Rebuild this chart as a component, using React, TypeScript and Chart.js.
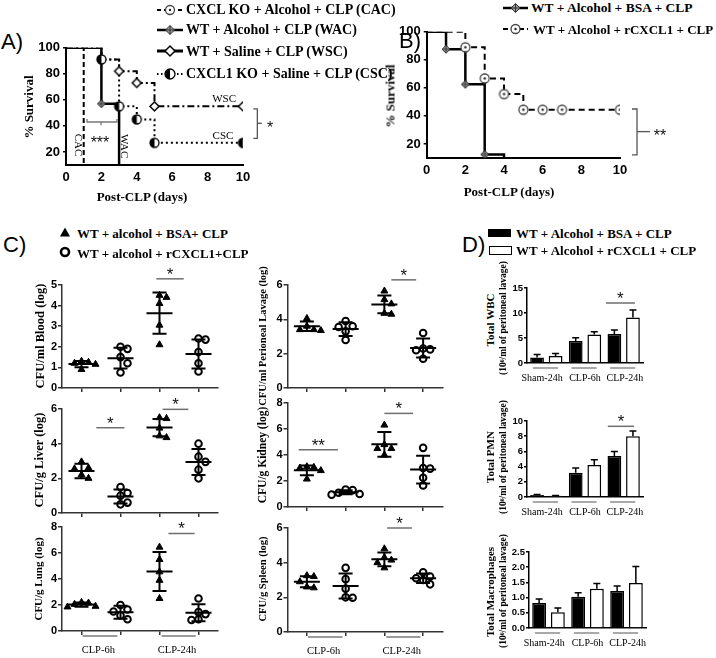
import React, { useEffect, useRef } from 'react';
import { Chart, registerables } from 'chart.js';

Chart.register(...registerables);

const SERIF = '"Liberation Serif", "Times New Roman", Times, serif';
const SANS = '"Liberation Sans", Arial, Helvetica, sans-serif';

// ================= Panel A : survival =================
const daysCAC = [0, 1];
const survCAC = [100, 0];
const daysWAC = [0, 2, 3];
const survWAC = [100, 57, 0];
const daysWSC = [0, 2, 3, 4, 5, 10];
const survWSC = [100, 91, 82, 73, 55, 55];
const daysCSC = [0, 2, 3, 4, 5, 10];
const survCSC = [100, 91, 55, 45, 27, 27];
const censorDaysWAC = [2];
const censorSurvWAC = [57];
const censorDaysWSC = [3, 4, 5, 10];
const censorSurvWSC = [82, 73, 55, 55];
const censorDaysCSC = [2, 3, 4, 5, 10];
const censorSurvCSC = [91, 55, 45, 27, 27];

// ================= Panel B : survival =================
const daysBSA = [0, 1, 2, 3, 4];
const survBSA = [100, 87.5, 62.5, 12.5, 0];
const daysRC = [0, 2, 3, 4, 5, 10];
const survRC = [100, 88.9, 66.7, 55.6, 44.4, 44.4];
const censorDaysBSA = [1, 2, 3];
const censorSurvBSA = [87.5, 62.5, 12.5];
const censorDaysRC = [2, 3, 4, 5, 6, 7, 10];
const censorSurvRC = [88.9, 66.7, 55.6, 44.4, 44.4, 44.4, 44.4];

const dayTicks = [0, 2, 4, 6, 8, 10];
const survTicks = [20, 40, 60, 80, 100];

// ================= Panel C : CFU (log) =================
const bloodBSA6h = [1.3, 1.25, 1.2, 1.15, 0.9];
const bloodRC6h = [2.0, 1.9, 1.5, 1.2, 0.75];
const bloodBSA24h = [4.5, 4.4, 4.1, 3.05, 2.1];
const bloodRC24h = [2.4, 2.35, 1.75, 1.2, 0.8];
const bloodMean = [1.16, 1.45, 3.63, 1.65];
const bloodSD = [0.15, 0.5, 1.0, 0.7];

const peritBSA6h = [4.05, 3.6, 3.4, 3.4, 3.35];
const peritRC6h = [3.9, 3.6, 3.55, 3.3, 2.8];
const peritBSA24h = [5.65, 5.15, 4.9, 4.35, 4.3];
const peritRC24h = [3.2, 2.3, 2.25, 2.2, 1.7];
const peritMean = [3.6, 3.43, 4.87, 2.33];
const peritSD = [0.28, 0.4, 0.52, 0.55];

const liverBSA6h = [2.95, 2.6, 2.55, 2.2, 2.0];
const liverRC6h = [1.5, 1.15, 1.0, 0.6, 0.5];
const liverBSA24h = [5.5, 5.45, 4.9, 4.45, 4.35];
const liverRC24h = [4.0, 3.25, 2.95, 2.5, 2.0];
const liverMean = [2.42, 0.95, 4.93, 2.94];
const liverSD = [0.42, 0.4, 0.5, 0.75];

const kidneyBSA6h = [3.1, 3.05, 3.0, 2.8, 2.15];
const kidneyRC6h = [1.35, 1.3, 1.1, 1.0, 0.95];
const kidneyBSA24h = [6.3, 4.8, 4.5, 4.5, 4.0];
const kidneyRC24h = [4.55, 3.0, 2.95, 2.25, 1.65];
const kidneyMean = [2.82, 1.14, 4.82, 2.88];
const kidneySD = [0.38, 0.15, 0.95, 1.07];

const lungBSA6h = [2.2, 2.15, 2.05, 1.9, 1.85];
const lungRC6h = [2.0, 1.65, 1.5, 1.2, 0.9];
const lungBSA24h = [6.45, 5.5, 4.55, 3.9, 2.5];
const lungRC24h = [2.5, 1.45, 1.3, 0.9, 0.85];
const lungMean = [2.03, 1.45, 4.58, 1.4];
const lungSD = [0.16, 0.5, 1.5, 0.65];

const spleenBSA6h = [3.25, 3.2, 2.9, 2.6, 2.55];
const spleenRC6h = [3.7, 3.05, 2.5, 2.0, 1.98];
const spleenBSA24h = [4.8, 4.3, 4.15, 4.0, 3.7];
const spleenRC24h = [3.45, 3.2, 3.1, 3.0, 2.75];
const spleenMean = [2.9, 2.65, 4.19, 3.1];
const spleenSD = [0.32, 0.72, 0.4, 0.27];

const cGroups = ['CLP-6h', 'CLP-24h'];

// ================= Panel D : peritoneal cells =================
const dGroups = ['Sham-24h', 'CLP-6h', 'CLP-24h'];
const wbcBSA = [1.1, 4.4, 5.8];
const wbcBSAsd = [0.6, 0.65, 0.8];
const wbcRC = [1.4, 5.7, 9.1];
const wbcRCsd = [0.5, 0.55, 1.5];
const pmnBSA = [0.25, 3.2, 5.4];
const pmnBSAsd = [0.08, 0.6, 0.6];
const pmnRC = [0.15, 4.2, 8.0];
const pmnRCsd = [0.05, 0.7, 0.7];
const macBSA = [0.82, 1.03, 1.22];
const macBSAsd = [0.13, 0.13, 0.16];
const macRC = [0.52, 1.29, 1.48];
const macRCsd = [0.14, 0.17, 0.54];

const legendA = [
  'CXCL KO + Alcohol + CLP (CAC)',
  'WT + Alcohol + CLP (WAC)',
  'WT + Saline + CLP (WSC)',
  'CXCL1 KO + Saline + CLP (CSC)',
];
const legendB = ['WT + Alcohol + BSA + CLP', 'WT + Alcohol + rCXCL1 + CLP'];
const legendC = ['WT + alcohol + BSA+ CLP', 'WT + alcohol + rCXCL1+CLP'];
const legendD = ['WT + Alcohol + BSA + CLP', 'WT + Alcohol + rCXCL1 + CLP'];

// ================= helpers =================
type Box = { l: number; t: number; r: number; b: number };
type Pad = { l: number; t: number; r: number; b: number };
type Draw = (ctx: CanvasRenderingContext2D, cx: number, cy: number, r: number) => void;

type Ann =
  | { kind: 'path'; pts: number[][]; color?: string; width?: number }
  | { kind: 'text'; x: number; y: number; text: string; size: number; rot?: number; weight?: string; font?: string }
  | { kind: 'star'; x: number; y: number; text: string; size: number }
  | { kind: 'sig'; x0: number; x1: number; y: number; text: string }
  | { kind: 'group'; x0: number; x1: number; lx: number; text: string; dyLine: number; dyText: number; size: number };

const mCircleDot: Draw = (ctx, cx, cy, r) => {
  ctx.beginPath();
  ctx.arc(cx, cy, r, 0, Math.PI * 2);
  ctx.fillStyle = '#fff';
  ctx.fill();
  ctx.lineWidth = 1.3;
  ctx.strokeStyle = '#444';
  ctx.stroke();
  ctx.beginPath();
  ctx.arc(cx, cy, 1.2, 0, Math.PI * 2);
  ctx.fillStyle = '#222';
  ctx.fill();
};
const mHalf: Draw = (ctx, cx, cy, r) => {
  ctx.beginPath();
  ctx.arc(cx, cy, r, 0, Math.PI * 2);
  ctx.fillStyle = '#fff';
  ctx.fill();
  ctx.beginPath();
  ctx.moveTo(cx, cy - r);
  ctx.arc(cx, cy, r, -Math.PI / 2, Math.PI / 2, true);
  ctx.closePath();
  ctx.fillStyle = '#000';
  ctx.fill();
  ctx.beginPath();
  ctx.arc(cx, cy, r, 0, Math.PI * 2);
  ctx.lineWidth = 1.3;
  ctx.strokeStyle = '#000';
  ctx.stroke();
};
const diamondPath = (ctx: CanvasRenderingContext2D, cx: number, cy: number, r: number) => {
  ctx.beginPath();
  ctx.moveTo(cx, cy - r);
  ctx.lineTo(cx + r, cy);
  ctx.lineTo(cx, cy + r);
  ctx.lineTo(cx - r, cy);
  ctx.closePath();
};
const mDiamondCross: Draw = (ctx, cx, cy, r) => {
  diamondPath(ctx, cx, cy, r);
  ctx.fillStyle = '#9a9a9a';
  ctx.fill();
  ctx.lineWidth = 1;
  ctx.strokeStyle = '#333';
  ctx.stroke();
  ctx.beginPath();
  ctx.moveTo(cx, cy - r);
  ctx.lineTo(cx, cy + r);
  ctx.moveTo(cx - r, cy);
  ctx.lineTo(cx + r, cy);
  ctx.stroke();
};
const mDiamondOpen: Draw = (ctx, cx, cy, r) => {
  diamondPath(ctx, cx, cy, r);
  ctx.fillStyle = '#fff';
  ctx.fill();
  ctx.lineWidth = 1.5;
  ctx.strokeStyle = '#000';
  ctx.stroke();
};
const mTriangle: Draw = (ctx, cx, cy, r) => {
  ctx.beginPath();
  ctx.moveTo(cx, cy - r);
  ctx.lineTo(cx + r, cy + r * 0.8);
  ctx.lineTo(cx - r, cy + r * 0.8);
  ctx.closePath();
  ctx.fillStyle = '#000';
  ctx.fill();
};
const mCircleOpen: Draw = (ctx, cx, cy, r) => {
  ctx.beginPath();
  ctx.arc(cx, cy, r, 0, Math.PI * 2);
  ctx.lineWidth = 2.6;
  ctx.strokeStyle = '#000';
  ctx.stroke();
};

function mk(r: number, draw: Draw) {
  const s = Math.ceil(2 * r + 4);
  const cv = document.createElement('canvas');
  cv.width = s;
  cv.height = s;
  draw(cv.getContext('2d') as CanvasRenderingContext2D, s / 2, s / 2, r);
  return cv;
}

function drawStar(ctx: CanvasRenderingContext2D, x: number, yc: number, text: string, size: number) {
  ctx.font = `${size}px ${SANS}`;
  ctx.fillStyle = '#111';
  ctx.textAlign = 'center';
  ctx.textBaseline = 'alphabetic';
  ctx.fillText(text, x, yc + size * 0.58);
}

function annPlugin(anns: Ann[]) {
  return {
    id: 'ann',
    afterDraw(chart: any) {
      const { ctx, chartArea } = chart;
      const X = (v: number) => chart.scales.x.getPixelForValue(v);
      const Y = (v: number) => chart.scales.y.getPixelForValue(v);
      ctx.save();
      for (const a of anns) {
        if (a.kind === 'path') {
          ctx.beginPath();
          a.pts.forEach((p, i) => (i ? ctx.lineTo(X(p[0]), Y(p[1])) : ctx.moveTo(X(p[0]), Y(p[1]))));
          ctx.strokeStyle = a.color || '#555';
          ctx.lineWidth = a.width || 1.3;
          ctx.setLineDash([]);
          ctx.stroke();
        } else if (a.kind === 'text') {
          ctx.save();
          ctx.translate(X(a.x), Y(a.y));
          if (a.rot) ctx.rotate((a.rot * Math.PI) / 180);
          ctx.font = `${a.weight || 'normal'} ${a.size}px ${a.font || SERIF}`;
          ctx.fillStyle = '#000';
          ctx.textAlign = 'center';
          ctx.textBaseline = 'middle';
          ctx.fillText(a.text, 0, 0);
          ctx.restore();
        } else if (a.kind === 'star') {
          drawStar(ctx, X(a.x), Y(a.y), a.text, a.size);
        } else if (a.kind === 'sig') {
          const y = Y(a.y);
          ctx.beginPath();
          ctx.moveTo(X(a.x0), y);
          ctx.lineTo(X(a.x1), y);
          ctx.strokeStyle = '#6e6e6e';
          ctx.lineWidth = 1.5;
          ctx.stroke();
          drawStar(ctx, (X(a.x0) + X(a.x1)) / 2, y - 9, a.text, 17);
        } else if (a.kind === 'group') {
          const yb = chartArea.bottom;
          ctx.beginPath();
          ctx.moveTo(X(a.x0), yb + a.dyLine);
          ctx.lineTo(X(a.x1), yb + a.dyLine);
          ctx.strokeStyle = '#7a7a7a';
          ctx.lineWidth = 1.3;
          ctx.stroke();
          ctx.font = `${a.size}px ${SERIF}`;
          ctx.fillStyle = '#000';
          ctx.textAlign = 'center';
          ctx.textBaseline = 'middle';
          ctx.fillText(a.text, X(a.lx), yb + a.dyText);
        }
      }
      ctx.restore();
    },
  };
}

const pts = (xs: number[], ys: number[]) => xs.map((x, i) => ({ x, y: ys[i] }));
const tickList = (vals: number[]) => (s: any) => {
  s.ticks = vals.map((value) => ({ value }));
};

function survivalConfig(opts: { lines: any[]; marks: any[]; anns: Ann[] }) {
  const tickFont = { family: SANS, size: 13, weight: 'bold' };
  return {
    type: 'scatter',
    data: {
      datasets: [
        ...opts.lines.map((l) => ({
          type: 'line',
          data: pts(l.xs, l.ys),
          stepped: 'before',
          borderColor: '#000',
          borderWidth: l.width,
          borderDash: l.dash,
          pointRadius: 0,
          fill: false,
          order: 1,
        })),
        ...opts.marks.map((m) => ({
          type: 'scatter',
          data: pts(m.xs, m.ys),
          pointStyle: m.style,
          pointRadius: 5,
          order: 0,
        })),
      ],
    },
    options: {
      scales: {
        x: {
          type: 'linear',
          min: 0,
          max: 10,
          afterBuildTicks: tickList(dayTicks),
          ticks: { font: tickFont, color: '#000', padding: 5, autoSkip: false, maxRotation: 0 },
          grid: { display: false, drawTicks: false, tickLength: 0 },
          border: { display: true, color: '#000', width: 2 },
        },
        y: {
          type: 'linear',
          min: 10,
          max: 100,
          ticks: {
            stepSize: 20,
            includeBounds: false,
            autoSkip: false,
            font: tickFont,
            color: '#000',
            padding: 3,
            callback: (v: any) => (survTicks.includes(Number(v)) ? String(v) : ''),
          },
          grid: { display: true, drawOnChartArea: false, drawTicks: true, tickLength: 3, color: '#000', lineWidth: 1.5 },
          border: { display: true, color: '#000', width: 2 },
        },
      },
      plugins: { legend: { display: false }, tooltip: { enabled: false } },
    },
    plugins: [annPlugin(opts.anns)],
  };
}

function swarm(vals: number[], pxY: number, minDist: number) {
  const placed: { x: number; y: number }[] = [];
  return vals.map((v) => {
    const py = v * pxY;
    for (let k = 0; k < 30; k++) {
      const off = k === 0 ? 0 : (k % 2 ? 1 : -1) * Math.ceil(k / 2) * minDist;
      if (placed.every((p) => Math.hypot(p.x - off, p.y - py) >= minDist)) {
        placed.push({ x: off, y: py });
        return off;
      }
    }
    return 0;
  });
}

type ScatterSpec = {
  groups: number[][];
  means: number[];
  sds: number[];
  yMax: number;
  step: number;
  anns: Ann[];
};

function scatterConfig(spec: ScatterSpec, box: Box) {
  const pxY = (box.b - box.t) / spec.yMax;
  const pxX = (box.r - box.l) / spec.groups.length;
  const tri: any[] = [];
  const circ: any[] = [];
  spec.groups.forEach((vals, gi) => {
    const offs = swarm(vals, pxY, 7);
    vals.forEach((v, k) => (gi % 2 === 0 ? tri : circ).push({ x: gi + 1 + offs[k] / pxX, y: v }));
  });
  const msd = {
    id: 'msd',
    afterDatasetsDraw(chart: any) {
      const { ctx } = chart;
      const X = (v: number) => chart.scales.x.getPixelForValue(v);
      const Y = (v: number) => chart.scales.y.getPixelForValue(v);
      ctx.save();
      ctx.strokeStyle = '#000';
      ctx.lineWidth = 2;
      spec.means.forEach((m, i) => {
        const cx = X(i + 1);
        const ym = Y(m);
        const yt = Y(m + spec.sds[i]);
        const yb = Y(m - spec.sds[i]);
        ctx.beginPath();
        ctx.moveTo(cx - 13, ym);
        ctx.lineTo(cx + 13, ym);
        ctx.moveTo(cx, yt);
        ctx.lineTo(cx, yb);
        ctx.moveTo(cx - 7, yt);
        ctx.lineTo(cx + 7, yt);
        ctx.moveTo(cx - 7, yb);
        ctx.lineTo(cx + 7, yb);
        ctx.stroke();
      });
      ctx.restore();
    },
  };
  const cats = spec.groups.map((_, i) => i + 1);
  return {
    type: 'scatter',
    data: {
      datasets: [
        { data: tri, pointStyle: 'triangle', pointRadius: 4, backgroundColor: '#000', borderColor: '#000', borderWidth: 1 },
        { data: circ, pointStyle: 'circle', pointRadius: 3.3, backgroundColor: '#fff', borderColor: '#000', borderWidth: 2 },
      ],
    },
    options: {
      scales: {
        x: {
          type: 'linear',
          min: 0.5,
          max: spec.groups.length + 0.5,
          afterBuildTicks: tickList(cats),
          ticks: { display: false },
          grid: { drawOnChartArea: false, drawTicks: true, tickLength: 4, color: '#333', lineWidth: 1.5 },
          border: { display: true, color: '#333', width: 1.5 },
        },
        y: {
          type: 'linear',
          min: 0,
          max: spec.yMax,
          ticks: { stepSize: spec.step, font: { family: SANS, size: 11, weight: 'bold' }, color: '#000', padding: 1 },
          grid: { drawOnChartArea: false, drawTicks: true, tickLength: 4, color: '#333', lineWidth: 1.5 },
          border: { display: true, color: '#333', width: 1.5 },
        },
      },
      plugins: { legend: { display: false }, tooltip: { enabled: false } },
    },
    plugins: [msd, annPlugin(spec.anns)],
  };
}

type BarSpec = {
  bsa: number[];
  bsaSd: number[];
  rc: number[];
  rcSd: number[];
  max: number;
  step: number;
  dec: number;
  anns: Ann[];
};

function barConfig(spec: BarSpec) {
  const err = {
    id: 'err',
    afterDatasetsDraw(chart: any) {
      const ctx = chart.ctx;
      const y = chart.scales.y;
      [spec.bsaSd, spec.rcSd].forEach((sd, di) => {
        const vals = di ? spec.rc : spec.bsa;
        chart.getDatasetMeta(di).data.forEach((el: any, j: number) => {
          const top = y.getPixelForValue(vals[j] + sd[j]);
          ctx.save();
          ctx.strokeStyle = '#000';
          ctx.lineWidth = 1.5;
          ctx.beginPath();
          ctx.moveTo(el.x, el.y);
          ctx.lineTo(el.x, top);
          ctx.moveTo(el.x - 3.5, top);
          ctx.lineTo(el.x + 3.5, top);
          ctx.stroke();
          ctx.restore();
        });
      });
    },
  };
  const common = { borderColor: '#000', borderWidth: 1.5, categoryPercentage: 0.96, barPercentage: 0.74 };
  return {
    type: 'bar',
    data: {
      labels: dGroups,
      datasets: [
        { label: legendD[0], data: spec.bsa, backgroundColor: '#000', ...common },
        { label: legendD[1], data: spec.rc, backgroundColor: '#fff', ...common },
      ],
    },
    options: {
      scales: {
        x: {
          grid: { display: false, drawTicks: false },
          ticks: { display: false },
          border: { display: true, color: '#000', width: 1.5 },
        },
        y: {
          min: 0,
          max: spec.max,
          ticks: {
            stepSize: spec.step,
            font: { family: SANS, size: 9.5, weight: 'bold' },
            color: '#000',
            padding: 1,
            callback: (v: any) => Number(v).toFixed(spec.dec),
          },
          grid: { drawOnChartArea: false, drawTicks: true, tickLength: 3, color: '#000', lineWidth: 1.5 },
          border: { display: true, color: '#000', width: 1.5 },
        },
      },
      plugins: { legend: { display: false }, tooltip: { enabled: false } },
    },
    plugins: [err, annPlugin(spec.anns)],
  };
}

function ChartCanvas({ box, pad, build }: { box: Box; pad: Pad; build: () => any }) {
  const ref = useRef<HTMLCanvasElement | null>(null);
  const left = Math.round(box.l - pad.l);
  const top = Math.round(box.t - pad.t);
  const w = Math.round(box.r + pad.r) - left;
  const h = Math.round(box.b + pad.b) - top;
  useEffect(() => {
    const cfg = build();
    const o = cfg.options;
    o.responsive = false;
    o.maintainAspectRatio = false;
    o.animation = false;
    o.devicePixelRatio = 1;
    o.layout = { padding: { left: 0, top: box.t - top, right: left + w - box.r, bottom: 0 } };
    o.scales.x.afterFit = (s: any) => {
      s.height = top + h - box.b;
    };
    o.scales.y.afterFit = (s: any) => {
      s.width = box.l - left;
    };
    const chart = new Chart(ref.current as HTMLCanvasElement, cfg);
    return () => chart.destroy();
  }, []);
  return (
    <canvas
      ref={ref}
      width={w}
      height={h}
      style={{ position: 'absolute', left, top, width: w, height: h }}
    />
  );
}

function Icon({ left, top, w, h, draw }: { left: number; top: number; w: number; h: number; draw: (ctx: CanvasRenderingContext2D, w: number, h: number) => void }) {
  const ref = useRef<HTMLCanvasElement | null>(null);
  useEffect(() => {
    const c = ref.current;
    if (!c) return;
    const ctx = c.getContext('2d') as CanvasRenderingContext2D;
    ctx.clearRect(0, 0, w, h);
    draw(ctx, w, h);
  }, []);
  return <canvas ref={ref} width={w} height={h} style={{ position: 'absolute', left, top, width: w, height: h }} />;
}

const lineIcon = (dash: number[], width: number, m: Draw | null, r: number) => (ctx: CanvasRenderingContext2D, w: number, h: number) => {
  ctx.setLineDash(dash);
  ctx.lineWidth = width;
  ctx.strokeStyle = '#000';
  ctx.beginPath();
  ctx.moveTo(1, h / 2);
  ctx.lineTo(w - 1, h / 2);
  ctx.stroke();
  ctx.setLineDash([]);
  if (m) m(ctx, w / 2, h / 2, r);
};

function T({ x, y, size, children, bold = true, family = SERIF, align = 'left', rot = 0 }: any) {
  const tx = align === 'left' ? '0' : align === 'center' ? '-50%' : '-100%';
  return (
    <div
      style={{
        position: 'absolute',
        left: x,
        top: y,
        fontFamily: family,
        fontSize: size,
        fontWeight: bold ? 700 : 400,
        lineHeight: 1,
        whiteSpace: 'nowrap',
        color: '#000',
        transform: `translate(${tx}, -50%)` + (rot ? ` rotate(${rot}deg)` : ''),
      }}
    >
      {children}
    </div>
  );
}

// ================= layout boxes (plot areas) =================
const boxA: Box = { l: 66, t: 47.7, r: 243, b: 165 };
const boxB: Box = { l: 426.7, t: 31.7, r: 620, b: 158 };
const boxBlood: Box = { l: 62, t: 285, r: 218, b: 388 };
const boxPerit: Box = { l: 287.5, t: 285, r: 442.5, b: 388 };
const boxLiver: Box = { l: 62, t: 409, r: 218, b: 513 };
const boxKidney: Box = { l: 287.5, t: 403, r: 442.5, b: 507 };
const boxLung: Box = { l: 62, t: 527, r: 218, b: 631 };
const boxSpleen: Box = { l: 287.5, t: 528, r: 442.5, b: 632 };
const boxWBC: Box = { l: 527, t: 288, r: 643, b: 363 };
const boxPMN: Box = { l: 527, t: 421, r: 643, b: 497 };
const boxMac: Box = { l: 529, t: 552, r: 646, b: 628 };

const padSurv: Pad = { l: 40, t: 12, r: 60, b: 30 };
const padC: Pad = { l: 26, t: 26, r: 10, b: 30 };
const padD: Pad = { l: 26, t: 22, r: 20, b: 26 };

const cBottomAnns: Ann[] = [
  { kind: 'group', x0: 1.03, x1: 1.92, lx: 1.43, text: cGroups[0], dyLine: 5, dyText: 19, size: 10.5 },
  { kind: 'group', x0: 3.05, x1: 3.93, lx: 3.45, text: cGroups[1], dyLine: 5, dyText: 19, size: 10.5 },
];
const dLabelShift = [-0.11, 0, 0.03];
const dGroupAnns: Ann[] = dGroups.map((g, i) => ({
  kind: 'group' as const,
  x0: i - 0.35,
  x1: i + 0.3,
  lx: i + dLabelShift[i],
  text: g,
  dyLine: 5,
  dyText: 15,
  size: 10,
}));

const buildA = () =>
  survivalConfig({
    lines: [
      { xs: daysCAC, ys: survCAC, dash: [5, 3], width: 2 },
      { xs: daysWAC, ys: survWAC, dash: [], width: 2.5 },
      { xs: daysWSC, ys: survWSC, dash: [7, 3, 2, 3], width: 2 },
      { xs: daysCSC, ys: survCSC, dash: [2, 3], width: 2 },
    ],
    marks: [
      { xs: censorDaysWAC, ys: censorSurvWAC, style: mk(4, mDiamondCross) },
      { xs: censorDaysWSC, ys: censorSurvWSC, style: mk(4.5, mDiamondOpen) },
      { xs: censorDaysCSC, ys: censorSurvCSC, style: mk(4.5, mHalf) },
    ],
    anns: [
      { kind: 'text', x: 0.65, y: 25.3, text: 'CAC', size: 11, rot: 90 },
      { kind: 'text', x: 3.28, y: 24.5, text: 'WAC', size: 11, rot: 90 },
      { kind: 'star', x: 1.92, y: 30, text: '***', size: 16 },
      { kind: 'path', pts: [[1.19, 45.3], [1.19, 43], [2.88, 43], [2.88, 45.3]], color: '#777' },
      { kind: 'path', pts: [[1.98, 43], [1.98, 40.5]], color: '#777' },
      { kind: 'text', x: 8.93, y: 60.6, text: 'WSC', size: 11 },
      { kind: 'text', x: 8.87, y: 32.2, text: 'CSC', size: 11 },
      { kind: 'path', pts: [[10.58, 53], [10.81, 53], [10.81, 30.5], [10.58, 30.5]], color: '#555' },
      { kind: 'path', pts: [[10.81, 42], [11.06, 42]], color: '#555' },
      { kind: 'star', x: 11.53, y: 41.5, text: '*', size: 16 },
    ],
  });

const buildB = () =>
  survivalConfig({
    lines: [
      { xs: daysBSA, ys: survBSA, dash: [], width: 2.5 },
      { xs: daysRC, ys: survRC, dash: [6, 4], width: 2 },
    ],
    marks: [
      { xs: censorDaysBSA, ys: censorSurvBSA, style: mk(4, mDiamondCross) },
      { xs: censorDaysRC, ys: censorSurvRC, style: mk(4.5, mCircleDot) },
    ],
    anns: [
      { kind: 'path', pts: [[10.62, 44.9], [10.88, 44.9], [10.88, 12.2], [10.62, 12.2]], color: '#555' },
      { kind: 'path', pts: [[10.88, 28.8], [11.55, 28.8]], color: '#555' },
      { kind: 'star', x: 12.07, y: 28.8, text: '**', size: 16 },
    ],
  });

const specBlood: ScatterSpec = {
  groups: [bloodBSA6h, bloodRC6h, bloodBSA24h, bloodRC24h],
  means: bloodMean,
  sds: bloodSD,
  yMax: 5,
  step: 1,
  anns: [{ kind: 'sig', x0: 2.92, x1: 3.62, y: 5.3, text: '*' }],
};
const specPerit: ScatterSpec = {
  groups: [peritBSA6h, peritRC6h, peritBSA24h, peritRC24h],
  means: peritMean,
  sds: peritSD,
  yMax: 6,
  step: 2,
  anns: [{ kind: 'sig', x0: 3.18, x1: 3.82, y: 6.3, text: '*' }],
};
const specLiver: ScatterSpec = {
  groups: [liverBSA6h, liverRC6h, liverBSA24h, liverRC24h],
  means: liverMean,
  sds: liverSD,
  yMax: 6,
  step: 2,
  anns: [
    { kind: 'sig', x0: 1.38, x1: 2.1, y: 4.92, text: '*' },
    { kind: 'sig', x0: 3.08, x1: 3.74, y: 5.98, text: '*' },
  ],
};
const specKidney: ScatterSpec = {
  groups: [kidneyBSA6h, kidneyRC6h, kidneyBSA24h, kidneyRC24h],
  means: kidneyMean,
  sds: kidneySD,
  yMax: 8,
  step: 2,
  anns: [
    { kind: 'sig', x0: 0.79, x1: 1.8, y: 4.4, text: '**' },
    { kind: 'sig', x0: 3.0, x1: 3.74, y: 7.2, text: '*' },
  ],
};
const specLung: ScatterSpec = {
  groups: [lungBSA6h, lungRC6h, lungBSA24h, lungRC24h],
  means: lungMean,
  sds: lungSD,
  yMax: 8,
  step: 2,
  anns: [{ kind: 'sig', x0: 3.23, x1: 3.9, y: 7.5, text: '*' }, ...cBottomAnns],
};
const specSpleen: ScatterSpec = {
  groups: [spleenBSA6h, spleenRC6h, spleenBSA24h, spleenRC24h],
  means: spleenMean,
  sds: spleenSD,
  yMax: 6,
  step: 2,
  anns: [{ kind: 'sig', x0: 3.07, x1: 3.71, y: 6.0, text: '*' }, ...cBottomAnns],
};

const specWBC: BarSpec = {
  bsa: wbcBSA,
  bsaSd: wbcBSAsd,
  rc: wbcRC,
  rcSd: wbcRCsd,
  max: 15,
  step: 5,
  dec: 0,
  anns: [{ kind: 'sig', x0: 1.54, x1: 2.29, y: 12, text: '*' }, ...dGroupAnns],
};
const specPMN: BarSpec = {
  bsa: pmnBSA,
  bsaSd: pmnBSAsd,
  rc: pmnRC,
  rcSd: pmnRCsd,
  max: 10,
  step: 2,
  dec: 0,
  anns: [{ kind: 'sig', x0: 1.59, x1: 2.27, y: 9.3, text: '*' }, ...dGroupAnns],
};
const specMac: BarSpec = {
  bsa: macBSA,
  bsaSd: macBSAsd,
  rc: macRC,
  rcSd: macRCsd,
  max: 2.5,
  step: 0.5,
  dec: 1,
  anns: [...dGroupAnns],
};

export default function App() {
  return (
    <div style={{ position: 'absolute', left: 0, top: 0, width: 716, height: 658, background: '#fff', overflow: 'hidden' }}>
      <ChartCanvas box={boxA} pad={padSurv} build={buildA} />
      <ChartCanvas box={boxB} pad={padSurv} build={buildB} />
      <ChartCanvas box={boxBlood} pad={padC} build={() => scatterConfig(specBlood, boxBlood)} />
      <ChartCanvas box={boxPerit} pad={padC} build={() => scatterConfig(specPerit, boxPerit)} />
      <ChartCanvas box={boxLiver} pad={padC} build={() => scatterConfig(specLiver, boxLiver)} />
      <ChartCanvas box={boxKidney} pad={padC} build={() => scatterConfig(specKidney, boxKidney)} />
      <ChartCanvas box={boxLung} pad={padC} build={() => scatterConfig(specLung, boxLung)} />
      <ChartCanvas box={boxSpleen} pad={padC} build={() => scatterConfig(specSpleen, boxSpleen)} />
      <ChartCanvas box={boxWBC} pad={padD} build={() => barConfig(specWBC)} />
      <ChartCanvas box={boxPMN} pad={padD} build={() => barConfig(specPMN)} />
      <ChartCanvas box={boxMac} pad={padD} build={() => barConfig(specMac)} />

      {/* Panel letters */}
      <T x={1} y={42} size={22} bold={false} family={SANS}>A)</T>
      <T x={399} y={41} size={22} bold={false} family={SANS}>B)</T>
      <T x={3} y={245} size={22} bold={false} family={SANS}>C)</T>
      <T x={462} y={245} size={22} bold={false} family={SANS}>D)</T>

      {/* Legend A */}
      <Icon left={156} top={3} w={28} h={14} draw={lineIcon([4, 3], 2, mCircleDot, 4.5)} />
      <Icon left={156} top={23} w={28} h={14} draw={lineIcon([], 2.5, mDiamondCross, 4.5)} />
      <Icon left={156} top={44} w={28} h={14} draw={lineIcon([], 3, mDiamondOpen, 5)} />
      <Icon left={156} top={67} w={28} h={14} draw={lineIcon([1.5, 2.5], 2, mHalf, 5)} />
      <T x={186} y={10} size={14}>{legendA[0]}</T>
      <T x={186} y={30} size={14}>{legendA[1]}</T>
      <T x={186} y={51.5} size={14}>{legendA[2]}</T>
      <T x={186} y={74} size={14}>{legendA[3]}</T>

      {/* Legend B */}
      <Icon left={502} top={1} w={27} h={14} draw={lineIcon([], 2.5, mDiamondCross, 4.5)} />
      <Icon left={502} top={22} w={27} h={14} draw={lineIcon([5, 3], 2, mCircleDot, 4.5)} />
      <T x={531} y={8} size={13.5}>{legendB[0]}</T>
      <T x={533} y={28.5} size={13}>{legendB[1]}</T>

      {/* Axis titles A / B */}
      <T x={28} y={107} size={13} align="center" rot={-90}>% Survival</T>
      <T x={142} y={196} size={13} align="center">Post-CLP (days)</T>
      <T x={390} y={96} size={13} align="center" rot={-90}>% Survival</T>
      <T x={509} y={191} size={13} align="center">Post-CLP (days)</T>

      {/* Legend C */}
      <Icon left={58} top={225} w={14} h={14} draw={(ctx, w, h) => mTriangle(ctx, w / 2, h / 2 + 0.5, 5)} />
      <Icon left={58} top={245} w={14} h={14} draw={(ctx, w, h) => mCircleOpen(ctx, w / 2, h / 2, 4)} />
      <T x={77} y={232.5} size={13}>{legendC[0]}</T>
      <T x={77} y={252.5} size={13}>{legendC[1]}</T>

      {/* C y titles */}
      <T x={40} y={336} size={12.5} align="center" rot={-90}>CFU/ml Blood (log)</T>
      <T x={39} y={460} size={12.5} align="center" rot={-90}>CFU/g Liver (log)</T>
      <T x={38} y={579} size={11} align="center" rot={-90}>CFU/g Lung (log)</T>
      <T x={263} y={336} size={10.5} align="center" rot={-90}>CFU/ml Perioneal Lavage (log)</T>
      <T x={263} y={455} size={11.5} align="center" rot={-90}>CFU/g Kidney (log)</T>
      <T x={263} y={579} size={10.5} align="center" rot={-90}>CFU/g Spleen (log)</T>

      {/* Legend D */}
      <div style={{ position: 'absolute', left: 488, top: 229, width: 23, height: 8, background: '#000' }} />
      <div style={{ position: 'absolute', left: 489, top: 246, width: 21, height: 7, border: '1px solid #000', background: '#fff' }} />
      <T x={516} y={233} size={13}>{legendD[0]}</T>
      <T x={516} y={250} size={13}>{legendD[1]}</T>

      {/* D y titles */}
      <T x={490} y={320} size={11} align="center" rot={-90}>Total WBC</T>
      <T x={503.5} y={318} size={9.5} align="center" rot={-90}>(10⁶/ml of peritoneal lavage)</T>
      <T x={490} y={457} size={11} align="center" rot={-90}>Total PMN</T>
      <T x={503.5} y={457} size={9.5} align="center" rot={-90}>(10⁶/ml of peritoneal lavage)</T>
      <T x={490} y={592} size={11} align="center" rot={-90}>Total Macrophages</T>
      <T x={503.5} y={591} size={9.5} align="center" rot={-90}>(10⁶/ml of peritoneal lavage)</T>
    </div>
  );
}
